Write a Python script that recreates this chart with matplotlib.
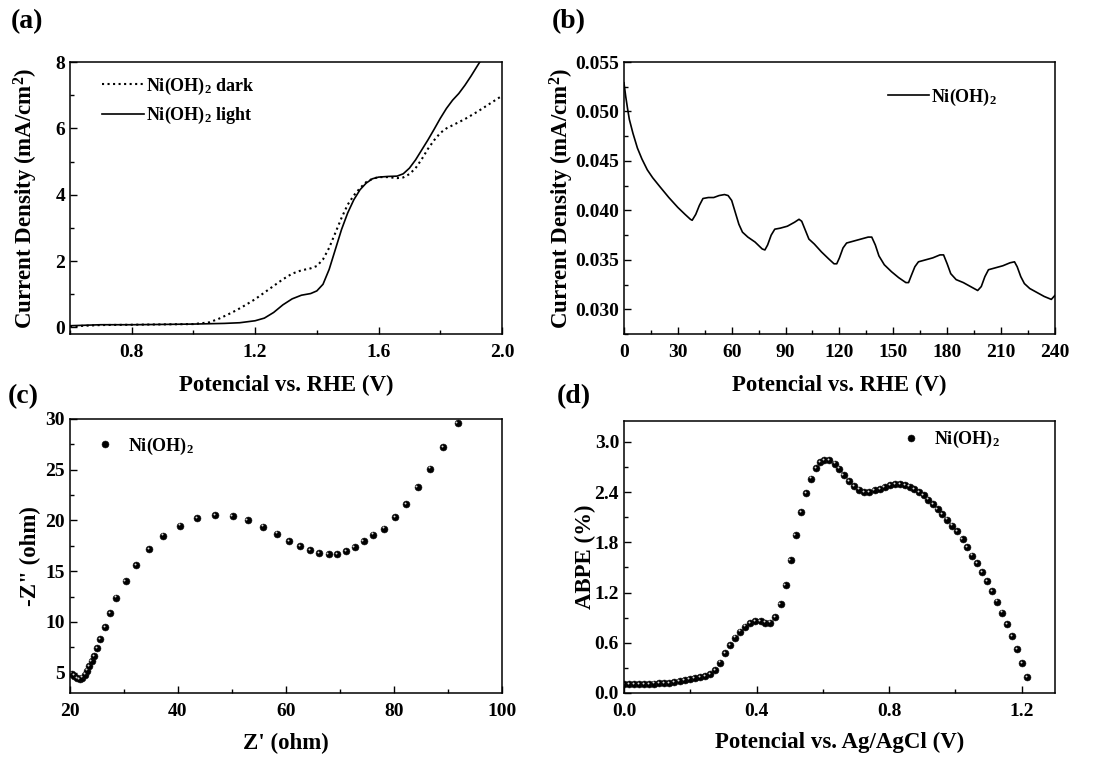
import numpy as np
import matplotlib
matplotlib.use("Agg")
import matplotlib.pyplot as plt
from matplotlib.ticker import MultipleLocator, FormatStrFormatter
from matplotlib.transforms import ScaledTranslation

plt.rcParams['font.family'] = ['Liberation Serif', 'DejaVu Serif']
plt.rcParams['font.weight'] = 'bold'
plt.rcParams['mathtext.fontset'] = 'custom'
plt.rcParams['mathtext.rm'] = 'Liberation Serif:bold'
plt.rcParams['mathtext.it'] = 'Liberation Serif:bold'
plt.rcParams['mathtext.bf'] = 'Liberation Serif:bold'

# (a) LSV curves
lsv_dark_v = [0.60, 0.70, 0.80, 0.90, 1.00, 1.05, 1.08, 1.11, 1.14, 1.17, 1.20, 1.23, 1.26,
              1.29, 1.32, 1.35, 1.38, 1.40, 1.42, 1.44, 1.46, 1.48, 1.50, 1.52, 1.54, 1.56,
              1.58, 1.60, 1.63, 1.66, 1.68, 1.70, 1.72, 1.74, 1.76, 1.78, 1.80, 1.82, 1.85,
              1.88, 1.92, 1.96, 2.00]
lsv_dark_j = [0.03, 0.07, 0.08, 0.09, 0.10, 0.15, 0.25, 0.38, 0.52, 0.68, 0.85, 1.05, 1.25,
              1.45, 1.62, 1.72, 1.78, 1.85, 2.05, 2.40, 2.85, 3.30, 3.70, 3.98, 4.20, 4.38,
              4.48, 4.53, 4.53, 4.50, 4.52, 4.62, 4.80, 5.07, 5.38, 5.64, 5.86, 6.00, 6.14,
              6.28, 6.50, 6.74, 6.98]
lsv_light_v = [0.60, 0.70, 0.80, 0.90, 1.00, 1.10, 1.15, 1.20, 1.23, 1.26, 1.29, 1.32, 1.35,
               1.38, 1.40, 1.42, 1.44, 1.46, 1.48, 1.50, 1.52, 1.54, 1.56, 1.58, 1.60, 1.63,
               1.66, 1.68, 1.70, 1.72, 1.74, 1.76, 1.78, 1.80, 1.82, 1.84, 1.86, 1.88, 1.90,
               1.92, 1.935]
lsv_light_j = [0.05, 0.08, 0.08, 0.09, 0.10, 0.12, 0.14, 0.20, 0.28, 0.45, 0.68, 0.86, 0.97,
               1.02, 1.10, 1.30, 1.75, 2.35, 2.95, 3.45, 3.85, 4.15, 4.35, 4.48, 4.53, 4.55,
               4.56, 4.63, 4.80, 5.05, 5.35, 5.65, 5.97, 6.30, 6.60, 6.85, 7.05, 7.30, 7.58,
               7.88, 8.10]

# (b) chopped-light current
it_t = [0, 1, 2, 3, 5, 7.5, 10, 13, 16, 20, 25, 30, 34, 37, 38, 40, 42, 44, 47, 50, 53, 56,
        58, 60, 62, 64, 66, 69, 73, 77, 78.5, 80, 82, 84, 87, 91, 95, 97.5, 99, 101, 103, 106,
        110, 114, 117, 118.5, 120, 122, 124, 128, 132, 136, 138, 140, 142, 145, 149, 153, 157,
        158.5, 160, 162, 164, 168, 172, 176, 178, 180, 182, 185, 189, 193, 197, 199, 201,
        203, 207, 211, 215, 217.5, 219, 221, 223, 226, 230, 234, 238, 240]
it_j = [0.0529, 0.0515, 0.0503, 0.0492, 0.0478, 0.0463, 0.0452, 0.0441, 0.0433, 0.0424,
        0.0413, 0.0403, 0.0396, 0.0391, 0.0390, 0.0396, 0.0405, 0.0412, 0.0413, 0.0413,
        0.0415, 0.0416, 0.0415, 0.0410, 0.0398, 0.0386, 0.0378, 0.0373, 0.0368, 0.0361,
        0.0360, 0.0365, 0.0375, 0.0381, 0.0382, 0.0384, 0.0388, 0.0391, 0.0389, 0.0380,
        0.0371, 0.0366, 0.0358, 0.0351, 0.0346, 0.0346, 0.0352, 0.0362, 0.0367, 0.0369,
        0.0371, 0.0373, 0.0373, 0.0365, 0.0354, 0.0345, 0.0338, 0.0332, 0.0327, 0.0327,
        0.0334, 0.0343, 0.0348, 0.0350, 0.0352, 0.0355, 0.0355, 0.0346, 0.0336, 0.0330,
        0.0327, 0.0323, 0.0319, 0.0323, 0.0333, 0.0340, 0.0342, 0.0344, 0.0347, 0.0348,
        0.0343, 0.0333, 0.0326, 0.0321, 0.0317, 0.0313, 0.0310, 0.0314]

# (c) Nyquist
eis_zre = [20.3, 20.8, 21.3, 21.8, 22.3, 22.8, 23.2, 23.6, 24.0, 24.5, 25.0, 25.6, 26.5, 27.4,
           28.6, 30.3, 32.2, 34.6, 37.3, 40.4, 43.6, 46.9, 50.1, 52.9, 55.8, 58.3, 60.6, 62.6,
           64.5, 66.2, 67.9, 69.5, 71.1, 72.7, 74.4, 76.2, 78.2, 80.2, 82.3, 84.4, 86.7, 89.1,
           91.8]
eis_zim = [4.9, 4.7, 4.45, 4.38, 4.5, 4.8, 5.2, 5.65, 6.15, 6.65, 7.4, 8.3, 9.5, 10.9, 12.4,
           14.0, 15.6, 17.2, 18.5, 19.5, 20.2, 20.5, 20.4, 20.0, 19.4, 18.7, 18.0, 17.5, 17.1,
           16.8, 16.7, 16.7, 17.0, 17.4, 18.0, 18.6, 19.2, 20.3, 21.6, 23.3, 25.1, 27.2, 29.6]

# (d) ABPE
abpe_v = [0.000, 0.015, 0.031, 0.046, 0.061, 0.076, 0.091, 0.107, 0.122, 0.137, 0.152, 0.168,
          0.183, 0.198, 0.213, 0.229, 0.244, 0.259, 0.274, 0.290, 0.305, 0.320, 0.335, 0.351,
          0.366, 0.381, 0.396, 0.412, 0.427, 0.442, 0.457, 0.473, 0.488, 0.503, 0.518, 0.534,
          0.549, 0.564, 0.579, 0.591, 0.604, 0.620, 0.636, 0.649, 0.663, 0.679, 0.694, 0.710,
          0.725, 0.740, 0.756, 0.772, 0.786, 0.802, 0.818, 0.833, 0.849, 0.862, 0.876, 0.890,
          0.904, 0.918, 0.932, 0.946, 0.960, 0.975, 0.990, 1.006, 1.022, 1.036, 1.050, 1.066,
          1.080, 1.096, 1.111, 1.125, 1.141, 1.155, 1.170, 1.185, 1.200, 1.217]
abpe_pct = [0.110, 0.110, 0.110, 0.110, 0.110, 0.110, 0.112, 0.115, 0.118, 0.122, 0.128, 0.140,
            0.152, 0.164, 0.176, 0.188, 0.204, 0.228, 0.276, 0.364, 0.472, 0.572, 0.660, 0.732,
            0.792, 0.836, 0.856, 0.856, 0.840, 0.840, 0.908, 1.060, 1.290, 1.590, 1.890, 2.160,
            2.390, 2.560, 2.690, 2.760, 2.785, 2.780, 2.740, 2.680, 2.600, 2.530, 2.470, 2.430,
            2.400, 2.400, 2.420, 2.440, 2.460, 2.480, 2.495, 2.495, 2.485, 2.465, 2.435, 2.400,
            2.360, 2.310, 2.260, 2.200, 2.140, 2.070, 2.000, 1.930, 1.840, 1.740, 1.640, 1.550,
            1.440, 1.340, 1.220, 1.090, 0.960, 0.820, 0.680, 0.520, 0.355, 0.185]

fig = plt.figure(figsize=(11.13, 7.6), dpi=100)
ax_a = fig.add_axes([0.0629, 0.5605, 0.3881, 0.3579])
ax_b = fig.add_axes([0.5606, 0.5605, 0.3872, 0.3579])
ax_c = fig.add_axes([0.0629, 0.0882, 0.3881, 0.3605])
ax_d = fig.add_axes([0.5606, 0.0882, 0.3872, 0.3579])

tick_fs = 14
label_fs = 16.5
leg_fs = 13

for ax in (ax_a, ax_b, ax_c, ax_d):
    for sp in ax.spines.values():
        sp.set_linewidth(1.1)
    ax.tick_params(which='both', direction='in', top=False, right=False,
                   labelsize=tick_fs, width=1.0)
    ax.tick_params(which='major', length=5)
    ax.tick_params(which='minor', length=3)
    ax.tick_params(axis='x', which='major', pad=7)


def balls(ax, x, y, label=None):
    ax.plot(x, y, 'o', color='black', ms=5, mec='#111111', mew=0.4, label=label)
    hl = ax.transData + ScaledTranslation(-0.9 / 72, 0.9 / 72, fig.dpi_scale_trans)
    ax.plot(x, y, 'o', color='#d8d8d8', ms=1.4, mew=0, transform=hl)


# (a)
ax_a.plot(lsv_dark_v, lsv_dark_j, ':', color='black', lw=1.5, label='Ni(OH)$_2$ dark')
ax_a.plot(lsv_light_v, lsv_light_j, '-', color='black', lw=1.2, label='Ni(OH)$_2$ light')
ax_a.set_xlim(0.6, 2.0)
ax_a.set_ylim(-0.2, 8)
ax_a.xaxis.set_major_locator(MultipleLocator(0.4))
ax_a.xaxis.set_minor_locator(MultipleLocator(0.2))
ax_a.xaxis.set_major_formatter(FormatStrFormatter('%.1f'))
ax_a.yaxis.set_major_locator(MultipleLocator(2))
ax_a.yaxis.set_minor_locator(MultipleLocator(1))
ax_a.set_xlabel('Potencial vs. RHE (V)', fontsize=label_fs, fontweight='bold')
ax_a.set_ylabel('Current Density (mA/cm$^2$)', fontsize=label_fs, fontweight='bold')
ax_a.xaxis.set_label_coords(0.5, -0.15)
ax_a.yaxis.set_label_coords(-0.07, 0.5)
ax_a.legend(loc='upper left', bbox_to_anchor=(0.075, 0.95), frameon=False, fontsize=leg_fs,
            handlelength=2.3, handletextpad=0.1, borderaxespad=0, borderpad=0,
            labelspacing=0.45)

# (b)
ax_b.plot(it_t, it_j, '-', color='black', lw=1.2, label='Ni(OH)$_2$')
ax_b.set_xlim(0, 240)
ax_b.set_ylim(0.0275, 0.055)
ax_b.xaxis.set_major_locator(MultipleLocator(30))
ax_b.xaxis.set_minor_locator(MultipleLocator(15))
ax_b.yaxis.set_major_locator(MultipleLocator(0.005))
ax_b.yaxis.set_minor_locator(MultipleLocator(0.0025))
ax_b.yaxis.set_major_formatter(FormatStrFormatter('%.3f'))
ax_b.set_xlabel('Potencial vs. RHE (V)', fontsize=label_fs, fontweight='bold')
ax_b.set_ylabel('Current Density (mA/cm$^2$)', fontsize=label_fs, fontweight='bold')
ax_b.xaxis.set_label_coords(0.5, -0.15)
ax_b.yaxis.set_label_coords(-0.112, 0.5)
ax_b.legend(loc='upper left', bbox_to_anchor=(0.612, 0.91), frameon=False, fontsize=leg_fs,
            handlelength=2.3, handletextpad=0.1, borderaxespad=0, borderpad=0)

# (c)
balls(ax_c, eis_zre, eis_zim, label='Ni(OH)$_2$')
ax_c.set_xlim(20, 100)
ax_c.set_ylim(3, 30)
ax_c.xaxis.set_major_locator(MultipleLocator(20))
ax_c.xaxis.set_minor_locator(MultipleLocator(10))
ax_c.yaxis.set_major_locator(MultipleLocator(5))
ax_c.yaxis.set_minor_locator(MultipleLocator(2.5))
ax_c.set_xlabel("Z' (ohm)", fontsize=label_fs, fontweight='bold')
ax_c.set_ylabel('-Z" (ohm)', fontsize=label_fs, fontweight='bold')
ax_c.xaxis.set_label_coords(0.5, -0.145)
ax_c.yaxis.set_label_coords(-0.068, 0.5)
ax_c.legend(loc='upper left', bbox_to_anchor=(0.055, 0.94), frameon=False, fontsize=leg_fs,
            handlelength=1.2, handletextpad=0.7, borderaxespad=0, borderpad=0, numpoints=1)

# (d)
balls(ax_d, abpe_v, abpe_pct, label='Ni(OH)$_2$')
ax_d.set_xlim(0, 1.3)
ax_d.set_ylim(0, 3.25)
ax_d.xaxis.set_major_locator(MultipleLocator(0.4))
ax_d.xaxis.set_minor_locator(MultipleLocator(0.2))
ax_d.xaxis.set_major_formatter(FormatStrFormatter('%.1f'))
ax_d.yaxis.set_major_locator(MultipleLocator(0.6))
ax_d.yaxis.set_minor_locator(MultipleLocator(0.3))
ax_d.yaxis.set_major_formatter(FormatStrFormatter('%.1f'))
ax_d.set_xlabel('Potencial vs. Ag/AgCl (V)', fontsize=label_fs, fontweight='bold')
ax_d.set_ylabel('ABPE (%)', fontsize=label_fs, fontweight='bold')
ax_d.xaxis.set_label_coords(0.5, -0.143)
ax_d.yaxis.set_label_coords(-0.065, 0.5)
ax_d.legend(loc='upper left', bbox_to_anchor=(0.64, 0.97), frameon=False, fontsize=leg_fs,
            handlelength=1.2, handletextpad=0.7, borderaxespad=0, borderpad=0, numpoints=1)

for lbl, x, y in [('(a)', 0.010, 0.972), ('(b)', 0.496, 0.972),
                  ('(c)', 0.007, 0.478), ('(d)', 0.500, 0.478)]:
    fig.text(x, y, lbl, fontsize=20, fontweight='bold', va='center', ha='left')

fig.savefig('out.png', dpi=100)
